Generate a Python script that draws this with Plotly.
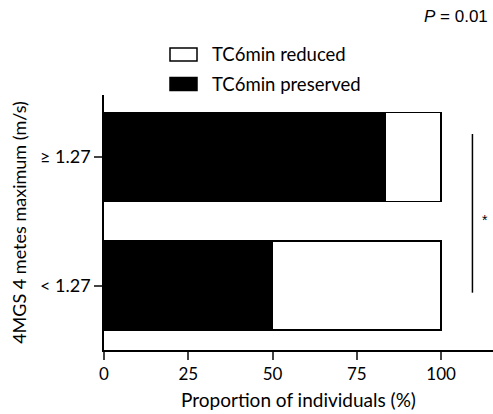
import plotly.graph_objects as go

categories = ["< 1.27", "≥ 1.27"]
preserved = [50.0, 83.3]
reduced = [50.0, 16.7]
x_ticks = [0, 25, 50, 75, 100]
legend_labels = ["TC6min reduced", "TC6min preserved"]

FONT = "Lato"
fig = go.Figure()
fig.add_trace(go.Bar(y=categories, x=preserved, orientation="h", name=legend_labels[1],
                     marker=dict(color="black", line=dict(color="black", width=1.5)),
                     width=0.69, showlegend=False))
fig.add_trace(go.Bar(y=categories, x=reduced, orientation="h", name=legend_labels[0],
                     marker=dict(color="white", line=dict(color="black", width=1.5)),
                     width=0.69, showlegend=False))

W, H = 493, 414
L, R, T, B = 104, 0, 95, 64

fig.update_layout(
    barmode="stack",
    width=W, height=H,
    margin=dict(l=L, r=R, t=T, b=B),
    plot_bgcolor="white", paper_bgcolor="white",
    font=dict(family=FONT, size=17, color="black"),
    xaxis=dict(range=[0, 115.4], tickvals=x_ticks, ticks="outside", ticklen=8, tickwidth=1.5,
               showline=True, linewidth=1.5, linecolor="black", showgrid=False, zeroline=False,
               title=dict(text="Proportion of individuals (%)", standoff=11, font=dict(size=19)),
               tickfont=dict(size=17)),
    yaxis=dict(range=[-0.5, 1.48], ticks="outside", ticklen=8, tickwidth=1.5,
               showline=True, linewidth=1.5, linecolor="black", showgrid=False, zeroline=False,
               title=dict(text="4MGS 4 metes maximum (m/s)", standoff=9, font=dict(size=18)),
               tickfont=dict(size=18)),
)

pw, ph = W - L - R, H - T - B
def px(xp): return (xp - L) / pw
def py(yp): return (H - B - yp) / ph

# significance bracket
fig.add_shape(type="line", xref="x", yref="y", x0=109.3, x1=109.3, y0=-0.055, y1=1.177,
              line=dict(color="black", width=1.5))
fig.add_annotation(x=113.0, y=0.51, xref="x", yref="y", text="*", showarrow=False,
                   font=dict(size=14, family="Liberation Sans"), xanchor="center", yanchor="middle")
fig.add_annotation(x=px(490), y=py(16), xref="paper", yref="paper", text="<i>P</i> = 0.01",
                   showarrow=False, xanchor="right", yanchor="middle",
                   font=dict(size=17, family="Liberation Sans"))

# legend drawn manually
boxes = [(54.5, "white"), (84, "black")]
for (yc, col), lab in zip(boxes, legend_labels):
    fig.add_shape(type="rect", xref="paper", yref="paper", x0=px(170), x1=px(197),
                  y0=py(yc + 6.5), y1=py(yc - 6.5), line=dict(color="black", width=1.5), fillcolor=col)
    fig.add_annotation(x=px(210), y=py(yc), xref="paper", yref="paper", text=lab,
                       showarrow=False, xanchor="left", yanchor="middle", font=dict(size=18.5))

fig.write_html("out.html", config={"displayModeBar": False},
               post_script="document.body.style.margin='0';")
